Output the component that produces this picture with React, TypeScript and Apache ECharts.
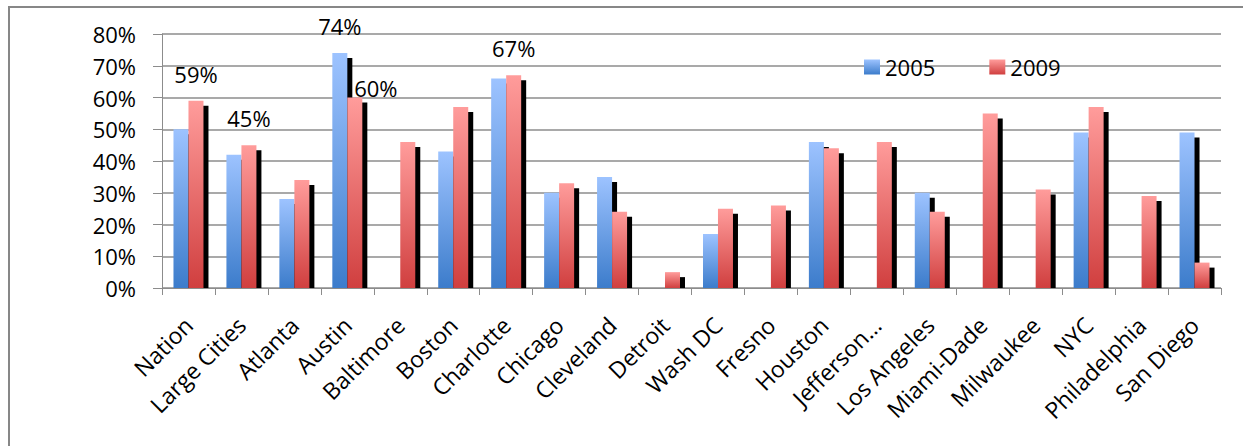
import React, { useEffect, useRef } from "react";
import * as echarts from "echarts";

const categories = [
  "Nation", "Large Cities", "Atlanta", "Austin", "Baltimore", "Boston",
  "Charlotte", "Chicago", "Cleveland", "Detroit", "Wash DC", "Fresno",
  "Houston", "Jefferson…", "Los Angeles", "Miami-Dade", "Milwaukee",
  "NYC", "Philadelphia", "San Diego",
];

const values2005: (number | null)[] = [
  50, 42, 28, 74, null, 43, 66, 30, 35, null, 17, null, 46, null, 30, null, null, 49, null, 49,
];

const values2009: (number | null)[] = [
  59, 45, 34, 60, 46, 57, 67, 33, 24, 5, 25, 26, 44, 46, 24, 55, 31, 57, 29, 8,
];

// Which bars carry a value label: [category index]
const labeled2005 = [3];
const labeled2009 = [0, 1, 3, 6];

const yTicks = [0, 80, 10]; // min, max, interval

const FONT = "'Open Sans', sans-serif";
const BAR_W = 15;

const blueGrad = () =>
  new echarts.graphic.LinearGradient(0, 0, 0, 1, [
    { offset: 0, color: "#9dc3ff" },
    { offset: 1, color: "#3c7ccb" },
  ]);
const redGrad = () =>
  new echarts.graphic.LinearGradient(0, 0, 0, 1, [
    { offset: 0, color: "#ff9c9b" },
    { offset: 1, color: "#d03f3f" },
  ]);

export default function App() {
  const ref = useRef<HTMLDivElement>(null);

  useEffect(() => {
    document.body.style.margin = "0";
    if (!ref.current) return;
    const chart = echarts.init(ref.current, null, { renderer: "svg" });

    const labelStyle = {
      show: true,
      position: "top" as const,
      distance: 16,
      fontSize: 22,
      fontFamily: FONT,
      color: "#000",
      formatter: (p: any) => `${p.value}%`,
    };

    const data2005 = values2005.map((v, i) =>
      labeled2005.includes(i) ? { value: v, label: labelStyle } : v
    );
    const data2009 = values2009.map((v, i) => {
      if (!labeled2009.includes(i)) return v;
      if (i === 3) {
        // Austin 2009 label sits beside the taller 2005 bar
        return { value: v, label: { ...labelStyle, offset: [21, 17] } };
      }
      return { value: v, label: labelStyle };
    });

    const shadowData = categories.map((_, i) => [
      i,
      values2005[i] == null ? NaN : values2005[i],
      values2009[i] == null ? NaN : values2009[i],
    ]);

    chart.setOption({
      animation: false,
      textStyle: { fontFamily: FONT },
      grid: { left: 162, right: 22, top: 34, bottom: 158, containLabel: false },
      legend: {
        left: 864,
        top: 56,
        padding: 0,
        itemWidth: 16,
        itemHeight: 15,
        itemGap: 54,
        icon: "rect",
        textStyle: { fontSize: 22, fontFamily: FONT, color: "#000" },
        data: ["2005", "2009"],
      },
      xAxis: {
        type: "category",
        data: categories,
        axisLine: { lineStyle: { color: "#8c8c8c", width: 1 } },
        axisTick: { show: true, length: 7, lineStyle: { color: "#8c8c8c" } },
        axisLabel: {
          interval: 0,
          rotate: 45,
          margin: 33,
          fontSize: 23,
          fontFamily: FONT,
          color: "#000",
        },
      },
      yAxis: {
        type: "value",
        min: yTicks[0],
        max: yTicks[1],
        interval: yTicks[2],
        axisLine: { show: true, lineStyle: { color: "#8c8c8c" } },
        axisTick: { show: true, length: 9, lineStyle: { color: "#8c8c8c" } },
        splitLine: { lineStyle: { color: "#8c8c8c", width: 1.5 } },
        axisLabel: {
          formatter: "{value}%",
          margin: 26,
          fontSize: 22,
          fontFamily: FONT,
          color: "#000",
        },
      },
      graphic: [
        {
          type: "rect",
          shape: { x: 9, y: 7, width: 1300, height: 500 },
          style: { fill: "none", stroke: "#878787", lineWidth: 2 },
          silent: true,
        },
      ],
      series: [
        {
          type: "custom",
          name: "shadow",
          z: 1,
          silent: true,
          data: shadowData,
          renderItem: (_params: any, api: any) => {
            const i = api.value(0);
            const base = api.coord([i, 0]);
            const cx = base[0];
            const y0 = base[1];
            const children: any[] = [];
            const add = (v: number, left: number) => {
              if (isNaN(v)) return;
              const top = api.coord([i, v])[1];
              children.push({
                type: "rect",
                shape: { x: left + 5, y: top + 5, width: BAR_W, height: Math.max(0, y0 - top - 5) },
                style: { fill: "#000" },
              });
            };
            add(api.value(1), cx - BAR_W);
            add(api.value(2), cx);
            return { type: "group", children };
          },
        },
        {
          type: "bar",
          name: "2005",
          z: 2,
          barWidth: BAR_W,
          barGap: "0%",
          data: data2005,
          itemStyle: { color: blueGrad() },
        },
        {
          type: "bar",
          name: "2009",
          z: 2,
          barWidth: BAR_W,
          barGap: "0%",
          data: data2009,
          itemStyle: { color: redGrad() },
        },
      ],
    });

    return () => chart.dispose();
  }, []);

  return <div ref={ref} style={{ width: 1243, height: 446 }} />;
}
